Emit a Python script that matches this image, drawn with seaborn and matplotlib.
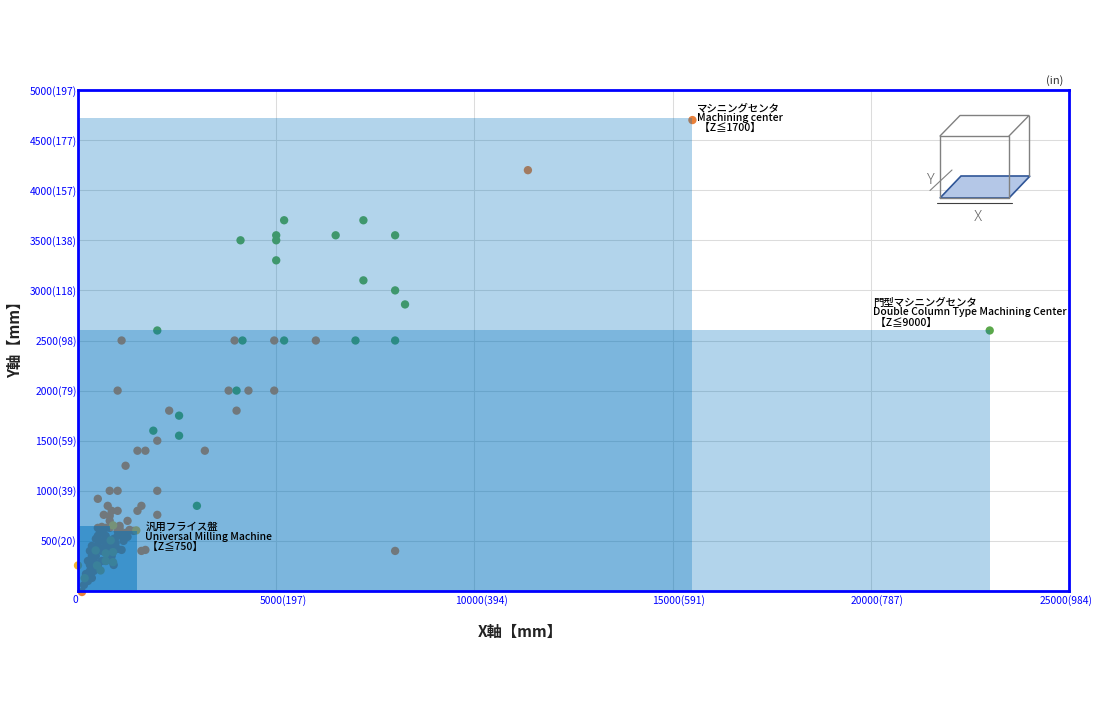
import matplotlib
matplotlib.use("Agg")
import matplotlib.pyplot as plt
import pandas as pd
import seaborn as sns
from matplotlib.patches import Polygon, Rectangle
from matplotlib.transforms import ScaledTranslation

# machining center points
mc_x = [15500, 11350, 1100, 1000, 3800, 3950, 4300, 4950, 4950, 6000, 4000, 2300, 2000, 1500, 1700,
        3200, 1200, 2000, 800, 1000, 500, 750, 850, 1000, 1600, 1500, 2000, 650, 800, 800, 1250, 1050,
        1050, 8000, 1600, 1700, 100,
        250, 350, 200, 300, 400, 300, 400, 250, 350, 450, 300, 400, 500, 350, 600, 550, 650, 500, 600,
        500, 700, 800, 600, 700, 800, 900, 1000, 1100, 1200, 1000, 900, 1000, 1100, 850, 900, 850, 700,
        600, 500, 750, 650, 1300, 1400, 150, 450, 550, 750, 950, 1150, 1250]
mc_y = [4700, 4200, 2500, 2000, 2000, 2500, 2000, 2500, 2000, 2500, 1800, 1800, 1500, 1400, 1400,
        1400, 1250, 1000, 1000, 1000, 920, 850, 800, 800, 850, 800, 760, 760, 750, 700, 700, 650,
        620, 400, 400, 410, -10,
        100, 130, 170, 200, 200, 260, 300, 300, 350, 350, 400, 420, 450, 450, 400, 500, 500, 550, 600,
        630, 630, 630, 640, 550, 500, 520, 550, 560, 580, 600, 450, 420, 410, 350, 260, 300, 300,
        300, 250, 420, 430, 610, 600, 60, 520, 580, 480, 480, 500, 540]

# double column type points
dc_x = [23000, 2000, 4100, 5000, 5000, 5000, 5200, 6500, 7200, 7200, 8000, 8000, 8250, 4150, 5200,
        7000, 8000, 4000, 1900, 2550, 2550, 3000]
dc_y = [2600, 2600, 3500, 3550, 3500, 3300, 3700, 3550, 3700, 3100, 3550, 3000, 2860, 2500, 2500,
        2500, 2500, 2000, 1600, 1750, 1550, 850]

# universal milling points
um_x = [0, 168, 446, 825, 885, 1470, 700, 885, 480, 570, 885, 700]
um_y = [255, 128, 405, 505, 655, 605, 375, 388, 255, 205, 288, 300]

# machine travel envelopes
mc_limit = (15500, 4720)
dc_limit = (23000, 2600)
um_limit_x = [800, 1500]
um_limit_y = [650, 600]

x_ticks = [0, 5000, 10000, 15000, 20000, 25000]
x_labels = ["0", "5000(197)", "10000(394)", "15000(591)", "20000(787)", "25000(984)"]
y_ticks = [500, 1000, 1500, 2000, 2500, 3000, 3500, 4000, 4500, 5000]
y_labels = ["500(20)", "1000(39)", "1500(59)", "2000(79)", "2500(98)", "3000(118)",
            "3500(138)", "4000(157)", "4500(177)", "5000(197)"]

sns.set_theme(style="white")
plt.rcParams['font.family'] = ['Noto Sans CJK JP', 'DejaVu Sans']

df = pd.concat([
    pd.DataFrame({'x': mc_x, 'y': mc_y, 'kind': 'mc'}),
    pd.DataFrame({'x': dc_x, 'y': dc_y, 'kind': 'dc'}),
    pd.DataFrame({'x': um_x, 'y': um_y, 'kind': 'um'}),
])

fig = plt.figure(figsize=(11, 7.2), dpi=100)
ax = fig.add_axes([78 / 1100, 1 - 591 / 720, 991 / 1100, 501 / 720])

sns.scatterplot(data=df, x='x', y='y', hue='kind', ax=ax, s=36, linewidth=0, legend=False,
                palette={'mc': '#E9803A', 'dc': '#5BA84B', 'um': '#F2B632'},
                hue_order=['mc', 'dc', 'um'], clip_on=False, zorder=2)

ax.set_xlim(0, 25000)
ax.set_ylim(0, 5000)
ax.grid(True, color='#dcdcdc', linewidth=0.75)
ax.set_axisbelow(True)

# the envelopes sit on top of the points
blue = '#0072BD'
ax.add_patch(Rectangle((0, 0), mc_limit[0], mc_limit[1], facecolor=blue, alpha=0.3, linewidth=0, zorder=3))
ax.add_patch(Rectangle((0, 0), dc_limit[0], dc_limit[1], facecolor=blue, alpha=0.3, linewidth=0, zorder=3))
um_shape = [(0, 0), (um_limit_x[1], 0), (um_limit_x[1], um_limit_y[1]), (um_limit_x[0], um_limit_y[1]),
            (um_limit_x[0], um_limit_y[0]), (0, um_limit_y[0])]
ax.add_patch(Polygon(um_shape, closed=True, facecolor=blue, alpha=0.5, linewidth=0, zorder=3))

for s in ax.spines.values():
    s.set_visible(True)
    s.set_color('#0000ff')
    s.set_linewidth(2)
    s.set_zorder(5)

ax.set_xticks(x_ticks)
ax.set_xticklabels(x_labels)
ax.set_yticks(y_ticks)
ax.set_yticklabels(y_labels)
ax.tick_params(axis='both', length=0, labelsize=7.4, labelcolor='#0000ff')
ax.tick_params(axis='y', pad=1)
ax.tick_params(axis='x', pad=3)

# x tick labels are not quite centred on their grid lines in the original
ax.get_xticklabels()[0].set_ha('right')
for lab, px in zip(ax.get_xticklabels(), [0, 7, 7, 6, 6, -3]):
    lab.set_transform(lab.get_transform() + ScaledTranslation(px / 100, 0, fig.dpi_scale_trans))

ax.set_xlabel("X軸【mm】", fontsize=11, fontweight='bold', color='#222222')
ax.set_ylabel("Y軸【mm】", fontsize=11, fontweight='bold', color='#222222')
ax.xaxis.set_label_coords((520 - 78) / 991, (591 - 632) / 501, transform=ax.transAxes)
ax.xaxis.label.set_va('center')
ax.yaxis.set_label_coords((15 - 78) / 991, (591 - 336) / 501, transform=ax.transAxes)
ax.yaxis.label.set_va('center')

note = dict(fontsize=7.5, color='black', linespacing=1.0, va='center', ha='left', zorder=6, fontweight='medium')
ax.text(15620, 4720, "マシニングセンタ\nMachining center\n 【Z≦1700】", **note)
ax.text(20050, 2780, "門型マシニングセンタ\nDouble Column Type Machining Center\n 【Z≦9000】", **note)
ax.text(1700, 540, "汎用フライス盤\nUniversal Milling Machine\n 【Z≦750】", **note)

# cube sketch, in picture pixels
sk = fig.add_axes([0, 0, 1, 1], facecolor='none')
sk.set_xlim(0, 1100)
sk.set_ylim(720, 0)
sk.axis('off')
sk.add_patch(Polygon([(940, 198), (1009, 198), (1030, 176), (961, 176)], closed=True,
                     facecolor='#b4c7e7', edgecolor='#2f5597', linewidth=1.2))
gray = '#808080'
sk.plot([940, 940, 1009, 1009, 940], [198, 136, 136, 198, 198], color=gray, lw=1)
sk.plot([940, 960, 1029, 1009], [136, 115.5, 115.5, 136], color=gray, lw=1)
sk.plot([1029, 1029], [115.5, 176], color=gray, lw=1)
sk.plot([930, 952], [190.5, 170], color=gray, lw=0.8)
sk.plot([937, 1012], [203, 203], color='#404040', lw=0.8)
sk.text(931, 180, "Y", fontsize=11, color='#666666', ha='center', va='center', fontweight='light')
sk.text(978, 217, "X", fontsize=11, color='#666666', ha='center', va='center', fontweight='light')
sk.text(1055, 81, "(in)", fontsize=8, color='#333333', ha='center', va='center')

plt.savefig("out.png", dpi=100)
